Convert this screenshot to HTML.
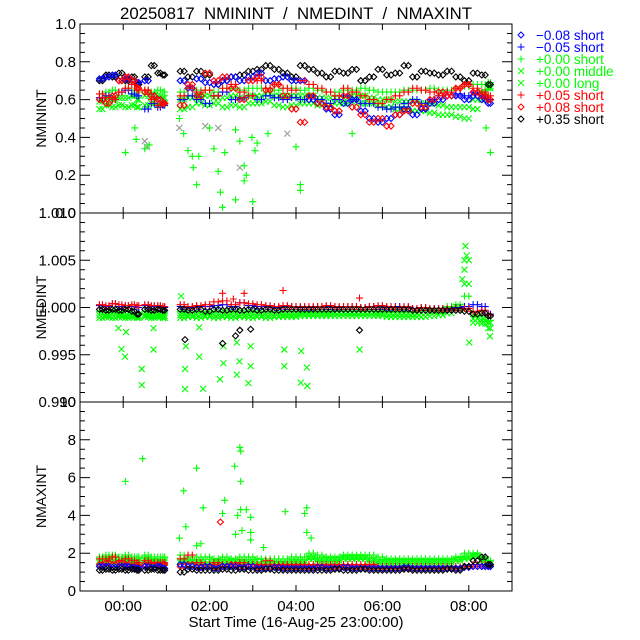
<!DOCTYPE html>
<html><head><meta charset="utf-8"><style>
html,body{margin:0;padding:0;background:#fff;}
svg{display:block;font-family:"Liberation Sans",sans-serif;}
</style></head><body>
<svg id="chart" width="640" height="640" viewBox="0 0 640 640" xmlns="http://www.w3.org/2000/svg">
<rect width="640" height="640" fill="#fff"/>
<text x="120" y="19" font-size="17" textLength="352" lengthAdjust="spacingAndGlyphs" xml:space="preserve">20250817  NMININT  /  NMEDINT  /  NMAXINT</text>
<g id="axes"></g>
<g id="marks"></g>
<g id="legend"></g>
</svg>
<script>
// ---- data ----
const times = [-0.55,-0.4,-0.25,-0.1,0.05,0.2,0.32, 0.5,0.65,0.8,0.92, 1.32,1.5,1.7,1.9,2.1,2.3,2.5,2.7,2.9,3.1,3.3,3.5,3.7,3.9,4.1, 4.3,4.5,4.7,4.9,5.1,5.3,5.5,5.7,5.9,6.1,6.3,6.5,6.7,6.9,7.1,7.3,7.5,7.7,7.9,8.1,8.3,8.45];
const timesB = [-0.48,-0.33,-0.18,-0.03,0.12,0.26,0.36, 0.58,0.72,0.86,0.96, 1.41,1.6,1.8,2.0,2.2,2.4,2.6,2.8,3.0,3.2,3.4,3.6,3.8,4.0,4.2, 4.4,4.6,4.8,5.0,5.2,5.4,5.6,5.8,6.0,6.2,6.4,6.6,6.8,7.0,7.2,7.4,7.6,7.8,8.0,8.2,8.38,8.5];

// NMININT
const minBlackDia = [0.70,0.73,0.72,0.74,0.70,0.72,0.68, 0.72,0.78,0.74,0.73, 0.75,0.72,0.75,0.73,0.68,0.70,0.72,0.73,0.75,0.76,0.78,0.76,0.74,0.72,0.78, 0.76,0.74,0.72,0.75,0.74,0.76,0.70,0.72,0.76,0.73,0.74,0.78,0.72,0.75,0.74,0.73,0.75,0.72,0.70,0.74,0.73,0.68];
const minBlueDia = [0.71,0.72,0.73,0.70,0.71,0.70,0.69, 0.70,0.62,0.60,0.58, 0.70,0.66,0.71,0.69,0.68,0.70,0.72,0.70,0.72,0.74,0.70,0.71,0.72,0.70,0.70, 0.60,0.58,0.55,0.52,0.58,0.60,0.54,0.50,0.48,0.50,0.52,0.55,0.52,0.55,0.58,0.60,0.62,0.62,0.60,0.62,0.60,0.58];
const minBluePlus = [0.61,0.62,0.60,0.64,0.65,0.63,0.62, 0.55,0.58,0.56,0.57, 0.60,0.62,0.60,0.58,0.62,0.64,0.60,0.61,0.62,0.60,0.62,0.61,0.60,0.61,0.60, 0.62,0.60,0.58,0.60,0.62,0.60,0.58,0.58,0.56,0.55,0.56,0.58,0.60,0.58,0.60,0.62,0.64,0.63,0.62,0.64,0.62,0.60];
const minRedPlus = [0.63,0.61,0.60,0.64,0.66,0.68,0.65, 0.65,0.60,0.57,0.58, 0.62,0.66,0.64,0.65,0.62,0.66,0.68,0.64,0.62,0.70,0.66,0.68,0.66,0.65,0.70, 0.68,0.66,0.64,0.62,0.66,0.64,0.62,0.60,0.58,0.60,0.62,0.64,0.66,0.65,0.64,0.62,0.64,0.66,0.68,0.66,0.64,0.62];
const minRedDia = [0.60,0.58,0.62,0.70,0.72,0.70,0.66, 0.64,0.62,0.60,0.58, 0.57,0.68,0.62,0.74,0.70,0.72,0.66,0.60,0.70,0.72,0.65,0.68,0.62,0.55,0.48, 0.62,0.58,0.56,0.54,0.62,0.56,0.52,0.48,0.50,0.46,0.52,0.54,0.58,0.56,0.60,0.64,0.62,0.66,0.68,0.64,0.62,0.60];
const minGreenShort = [0.63,0.64,0.65,0.64,0.66,0.65,0.64, 0.65,0.64,0.65,0.64, 0.64,0.66,0.65,0.65,0.64,0.66,0.66,0.65,0.66,0.66,0.66,0.65,0.66,0.66,0.65, 0.66,0.65,0.64,0.64,0.65,0.65,0.66,0.65,0.64,0.64,0.64,0.65,0.65,0.65,0.66,0.65,0.65,0.66,0.67,0.68,0.68,0.69];
const minGreenMiddle = [0.55,0.57,0.56,0.57,0.56,0.57,0.56, 0.57,0.58,0.57,0.58, 0.55,0.56,0.58,0.57,0.58,0.56,0.57,0.56,0.58,0.58,0.59,0.57,0.56,0.57,0.58, 0.58,0.57,0.57,0.58,0.58,0.59,0.58,0.58,0.57,0.56,0.55,0.55,0.54,0.54,0.53,0.52,0.52,0.51,0.50,0.55,0.60,0.66];
const minGreenLong = [0.59,0.61,0.60,0.61,0.61,0.62,0.60, 0.62,0.62,0.62,0.61, 0.60,0.61,0.62,0.62,0.61,0.61,0.62,0.61,0.62,0.62,0.63,0.62,0.62,0.62,0.62, 0.62,0.61,0.61,0.61,0.61,0.62,0.62,0.61,0.60,0.60,0.59,0.59,0.59,0.58,0.58,0.57,0.56,0.56,0.56,0.60,0.64,0.67];
const minOutT = [0.27,0.3,0.5,0.6,1.3,1.4,1.5,1.6,1.62,1.7,1.75,2.0,2.1,2.2,2.25,2.3,2.35,2.6,2.6,2.7,2.8,2.8,2.85,2.98,3.0,3.05,3.1,3.35,4.1,4.1,4.0,5.3,8.5,8.4,0.05];
const minOutV = [0.45,0.39,0.34,0.36,0.50,0.42,0.33,0.30,0.24,0.15,0.30,0.45,0.34,0.22,0.11,0.03,0.32,0.44,0.07,0.38,0.25,0.17,0.20,0.40,0.06,0.33,0.37,0.42,0.15,0.12,0.35,0.42,0.32,0.45,0.32];
const minGrayT = [1.3,1.9,2.2,2.7,3.8,0.5,0.55];
const minGrayV = [0.45,0.46,0.45,0.24,0.42,0.38,0.35];

// NMEDINT
const medBlackDia = [0.9998,0.9997,0.9998,0.9997,0.9998,0.9996,0.9993, 0.9998,0.9997,0.9998,0.9997, 0.9998,0.9997,0.9998,0.9996,0.9998,0.9997,0.9998,0.9997,0.9998,0.9997,0.9998,0.9997,0.9998,0.9998,0.9998, 0.9998,0.9998,0.9998,0.9998,0.9998,0.9998,0.9998,0.9998,0.9998,0.9998,0.9998,0.9998,0.9997,0.9997,0.9997,0.9997,0.9997,0.9997,0.9996,0.9993,0.9994,0.9991];
const medBluePlus = [1.0002,1.0001,1.0004,1.0001,1.0002,1.0001,1.0000, 1.0002,1.0001,1.0001,1.0000, 1.0001,1.0000,1.0001,1.0001,1.0002,1.0003,1.0001,1.0005,1.0002,1.0001,1.0001,1.0000,1.0001,1.0001,1.0000, 1.0000,1.0001,1.0001,1.0000,1.0001,1.0001,1.0000,1.0001,1.0001,1.0000,1.0001,1.0000,0.9999,1.0000,0.9999,0.9999,0.9998,1.0000,1.0001,1.0003,1.0001,0.9993];
const medRedPlus = [1.0003,1.0002,1.0004,1.0003,1.0002,1.0003,1.0002, 1.0003,1.0002,1.0002,1.0001, 1.0003,1.0001,1.0002,1.0003,1.0006,1.0007,1.0003,1.0005,1.0004,1.0003,1.0002,1.0001,1.0002,1.0001,1.0001, 1.0001,1.0001,1.0002,1.0001,1.0001,1.0001,1.0000,1.0001,1.0002,1.0001,1.0000,1.0001,0.9999,1.0000,0.9999,0.9999,0.9999,0.9999,0.9999,0.9996,0.9997,0.9992];
const medGreenShort = [0.9996,0.9995,0.9996,0.9995,0.9996,0.9995,0.9994, 0.9996,0.9995,0.9996,0.9995, 0.9996,0.9995,0.9996,0.9995,0.9996,0.9995,0.9996,0.9995,0.9996,0.9995,0.9996,0.9995,0.9996,0.9996,0.9995, 0.9996,0.9996,0.9996,0.9996,0.9996,0.9996,0.9996,0.9996,0.9996,0.9996,0.9996,0.9996,0.9996,0.9997,0.9998,0.9999,1.0001,1.0003,1.0012,0.9992,0.9990,0.9986];
const medGreenMiddle = [0.9992,0.9991,0.9993,0.9992,0.9991,0.9992,0.9991, 0.9992,0.9991,0.9992,0.9991, 0.9992,0.9991,0.9992,0.9991,0.9992,0.9991,0.9992,0.9991,0.9992,0.9991,0.9992,0.9991,0.9992,0.9992,0.9993, 0.9993,0.9993,0.9993,0.9994,0.9994,0.9994,0.9994,0.9994,0.9993,0.9993,0.9993,0.9993,0.9993,0.9994,0.9995,0.9996,0.9998,1.0001,1.0025,0.9988,0.9986,0.9984];
const medGreenLong = [0.9989,0.9990,0.9989,0.9990,0.9989,0.9990,0.9989, 0.9990,0.9989,0.9990,0.9989, 0.9989,0.9990,0.9989,0.9990,0.9989,0.9990,0.9989,0.9990,0.9989,0.9990,0.9989,0.9990,0.9990,0.9990,0.9991, 0.9991,0.9991,0.9991,0.9991,0.9991,0.9991,0.9991,0.9991,0.9991,0.9990,0.9990,0.9990,0.9990,0.9990,0.9991,0.9992,0.9994,0.9998,1.0050,0.9984,0.9983,0.9978];
const medOutT = [-0.11,0.04,0.43,0.43,-0.04,0.065,0.70,0.70,1.43,1.43,1.45,1.76,1.85,2.24,2.32,2.32,2.63,2.63,2.69,2.90,2.95,2.95,3.73,3.73,4.12,4.25,4.26,4.11,5.47,8.01,8.49,1.34,1.76,7.92,7.95,7.9,7.85];
const medOutV = [0.9978,0.9948,0.9935,0.9918,0.9956,0.9974,0.9978,0.99555,0.99137,0.9935,0.9959,0.9948,0.9914,0.9924,0.9941,0.9959,0.9929,0.9963,0.9943,0.9920,0.9938,0.9959,0.99555,0.9938,0.9954,0.99365,0.9917,0.99205,0.99555,0.9963,0.99695,1.0012,0.9979,1.0065,1.0055,1.0040,1.0030];
const medDiaOutT = [2.95,2.7,2.3,5.47,2.6,1.43];
const medDiaOutV = [0.9977,0.9976,0.9962,0.9976,0.9970,0.9966];
const medRedOutT = [2.3,2.8,3.7,5.47,2.55];
const medRedOutV = [1.0015,1.0015,1.0018,1.0010,1.0009];

// NMAXINT
const maxBlackDia = [1.1,1.15,1.1,1.15,1.1,1.15,1.1, 1.1,1.15,1.1,1.1, 1.0,1.15,1.1,1.1,1.1,1.15,1.1,1.15,1.1,1.1,1.15,1.1,1.1,1.1,1.1, 1.1,1.1,1.1,1.15,1.1,1.1,1.15,1.1,1.1,1.1,1.1,1.15,1.1,1.1,1.1,1.1,1.15,1.1,1.3,1.6,1.8,1.4];
const maxBlueDia = [1.3,1.3,1.25,1.3,1.3,1.25,1.2, 1.3,1.25,1.3,1.2, 1.4,1.3,1.25,1.3,1.2,1.3,1.3,1.25,1.3,1.2,1.2,1.25,1.2,1.2,1.2, 1.2,1.25,1.2,1.2,1.25,1.2,1.2,1.2,1.2,1.2,1.2,1.25,1.2,1.2,1.2,1.2,1.2,1.2,1.25,1.3,1.3,1.3];
const maxRedPlus = [1.7,1.7,1.8,1.6,1.7,1.6,1.5, 1.6,1.5,1.5,1.5, 1.7,1.9,1.5,1.4,1.5,1.4,1.4,1.5,1.4,1.4,1.6,1.4,1.4,1.4,1.4, 1.4,1.4,1.4,1.4,1.4,1.4,1.4,1.4,1.3,1.3,1.3,1.3,1.3,1.3,1.3,1.3,1.3,1.3,1.3,1.4,1.4,1.4];
const maxRedDia = [1.4,1.5,1.4,1.5,1.4,1.3,1.3, 1.4,1.4,1.4,1.4, 1.3,1.4,1.3,1.3,1.3,1.3,1.4,1.3,1.3,1.3,1.3,1.3,1.3,1.3,1.3, 1.3,1.3,1.3,1.3,1.3,1.3,1.3,1.3,1.2,1.2,1.2,1.2,1.2,1.2,1.2,1.2,1.2,1.2,1.3,1.3,1.3,1.3];
const maxGreenShort = [1.8,1.9,1.9,1.8,1.9,1.8,1.8, 1.9,1.8,1.8,1.8, 1.9,1.8,1.8,1.8,1.7,1.8,1.7,1.8,1.8,1.7,1.7,1.7,1.7,1.8,1.8, 2.0,1.9,1.8,1.8,1.9,1.9,1.9,1.9,1.8,1.7,1.7,1.7,1.7,1.7,1.7,1.7,1.7,1.8,2.0,2.0,1.8,1.6];
const maxGreenMiddle = [1.6,1.7,1.7,1.6,1.7,1.6,1.6, 1.7,1.6,1.6,1.6, 1.6,1.6,1.6,1.6,1.6,1.6,1.6,1.6,1.6,1.6,1.5,1.5,1.5,1.6,1.6, 1.8,1.7,1.7,1.7,1.8,1.8,1.8,1.7,1.6,1.6,1.6,1.6,1.6,1.6,1.6,1.6,1.6,1.7,1.8,1.9,1.7,1.5];
const maxGreenLong = [1.5,1.6,1.5,1.5,1.6,1.5,1.5, 1.6,1.5,1.5,1.5, 1.5,1.5,1.5,1.4,1.5,1.5,1.5,1.5,1.5,1.4,1.4,1.4,1.4,1.5,1.5, 1.7,1.6,1.6,1.6,1.7,1.7,1.7,1.6,1.5,1.5,1.5,1.5,1.5,1.5,1.5,1.5,1.5,1.6,1.7,1.8,1.6,1.4];
const maxOutT = [0.05,0.45,1.3,1.4,1.45,1.7,1.85,2.3,2.35,2.58,2.65,2.7,2.72,2.72,2.72,2.75,2.85,2.95,2.95,2.95,3.25,3.75,4.2,4.25,4.25,4.35,2.6,1.7,1.8];
const maxOutV = [5.8,7.0,2.8,5.3,3.4,6.5,4.4,4.1,4.8,6.6,4.0,7.6,7.4,5.8,4.3,3.2,4.3,3.9,3.1,2.7,2.3,4.2,4.1,4.4,3.1,2.8,3.0,2.4,2.5];
const maxDiaOutT = [2.25];
const maxDiaOutV = [3.65];

const yTicks1 = ['0.0','0.2','0.4','0.6','0.8','1.0'];
const yTicks2 = ['0.990','0.995','1.000','1.005','1.010'];
const yTicks3 = ['0','2','4','6','8','10'];
const xTickLabels = ['00:00','02:00','04:00','06:00','08:00'];

// ---- geometry ----
const NS = 'http://www.w3.org/2000/svg';
const L = 80, R = 512;
const xMin = -1, xMax = 9;
const panels = [
  {name:'nminint', top:24, bot:213, min:0, max:1, ticks:yTicks1, minor:0.05, title:'NMININT'},
  {name:'nmedint', top:213, bot:402, min:0.990, max:1.010, ticks:yTicks2, minor:0.001, title:'NMEDINT'},
  {name:'nmaxint', top:402, bot:591, min:0, max:10, ticks:yTicks3, minor:0.5, title:'NMAXINT'}
];
function xs(t){ return L + (t - xMin) / (xMax - xMin) * (R - L); }
function ysFor(p){ return v => p.bot - (v - p.min) / (p.max - p.min) * (p.bot - p.top); }

const axes = document.getElementById('axes');
const marks = document.getElementById('marks');
function mk(tag, attrs, parent){
  const e = document.createElementNS(NS, tag);
  for (const k in attrs) e.setAttribute(k, attrs[k]);
  parent.appendChild(e);
  return e;
}
function markerPath(type, x, y){
  if (type === 'dia') return `M${x-3},${y}L${x},${y-3}L${x+3},${y}L${x},${y+3}Z`;
  if (type === 'plus') return `M${x-3.5},${y}H${x+3.5}M${x},${y-3.5}V${y+3.5}`;
  return `M${x-3},${y-3}L${x+3},${y+3}M${x-3},${y+3}L${x+3},${y-3}`;
}
function drawSeries(p, ts, vs, type, color, label){
  const ys = ysFor(p);
  const tsets = (ts === times) ? [times, timesB] : [ts];
  let d = '';
  tsets.forEach(tt => {
    for (let i = 0; i < tt.length && i < vs.length; i++){
      if (vs[i] < p.min || vs[i] > p.max) continue;
      d += markerPath(type, xs(tt[i]), ys(vs[i]));
    }
  });
  const g = mk('path', {d:d, fill:'none', stroke:color, 'stroke-width':1.1}, marks);
  
  
}

panels.forEach(p => {
  const ys = ysFor(p);
  const fr = mk('rect', {x:L, y:p.top, width:R-L, height:p.bot-p.top, fill:'none', stroke:'#000', 'stroke-width':1}, axes);
  
  
  let d = '';
  const nMinor = Math.round((p.max - p.min) / p.minor);
  for (let i = 0; i <= nMinor; i++){
    const y = p.bot - i / nMinor * (p.bot - p.top);
    d += `M${L},${y}h5M${R},${y}h-5`;
  }
  p.ticks.forEach((lab) => {
    const v = parseFloat(lab);
    const y = ys(v);
    d += `M${L},${y}h10M${R},${y}h-10`;
    const t = mk('text', {x:L-4, y:y+5, 'font-size':15, 'text-anchor':'end'}, axes);
    t.textContent = lab;
    
    
  });
  for (let h = 0; h <= 8; h++){
    const x = xs(h);
    d += `M${x},${p.bot}v-6M${x},${p.top}v6`;
  }
  const tk = mk('path', {d:d, stroke:'#000', 'stroke-width':1, fill:'none'}, axes);
  
  
  const cy = (p.top + p.bot) / 2;
  const yt = mk('text', {x:0, y:0, 'font-size':14, 'text-anchor':'middle', transform:`translate(46,${cy}) rotate(-90)`}, axes);
  yt.textContent = p.title;
  
  
});

xTickLabels.forEach((lab, i) => {
  const t = mk('text', {x:xs(i*2), y:611, 'font-size':15, 'text-anchor':'middle'}, axes);
  t.textContent = lab;
  
  
});
const xt = mk('text', {x:296, y:627, 'font-size':15, 'text-anchor':'middle'}, axes);
xt.textContent = 'Start Time (16-Aug-25 23:00:00)';



const BLK='#000', BLU='#0000ff', GRN='#00ff00', GRY='#999', RED='#ff0000';
const [P1,P2,P3] = panels;
// panel 1
drawSeries(P1, minGrayT, minGrayV, 'x', GRY, 'gray-outliers');
drawSeries(P1, times, minGreenLong, 'x', GRN, 'green-long');
drawSeries(P1, times, minGreenMiddle, 'x', GRN, 'green-middle');
drawSeries(P1, times, minGreenShort, 'plus', GRN, 'green-short');
drawSeries(P1, minOutT, minOutV, 'plus', GRN, 'green-outliers');
drawSeries(P1, times, minBlackDia, 'dia', BLK, 'black-short');
drawSeries(P1, times, minBlueDia, 'dia', BLU, 'blue-diamond');
drawSeries(P1, times, minBluePlus, 'plus', BLU, 'blue-plus');
drawSeries(P1, times, minRedDia, 'dia', RED, 'red-diamond');
drawSeries(P1, times, minRedPlus, 'plus', RED, 'red-plus');
// panel 2
drawSeries(P2, times, medGreenLong, 'x', GRN, 'green-long');
drawSeries(P2, times, medGreenMiddle, 'x', GRN, 'green-middle');
drawSeries(P2, times, medGreenShort, 'plus', GRN, 'green-short');
drawSeries(P2, medOutT, medOutV, 'x', GRN, 'green-outliers');
drawSeries(P2, times, medBluePlus, 'plus', BLU, 'blue-plus');
drawSeries(P2, times, medRedPlus, 'plus', RED, 'red-plus');
drawSeries(P2, medRedOutT, medRedOutV, 'plus', RED, 'red-outliers');
drawSeries(P2, times, medBlackDia, 'dia', BLK, 'black-short');
drawSeries(P2, medDiaOutT, medDiaOutV, 'dia', BLK, 'black-outliers');
// panel 3
drawSeries(P3, times, maxGreenShort, 'plus', GRN, 'green-short');
drawSeries(P3, times, maxGreenMiddle, 'x', GRN, 'green-middle');
drawSeries(P3, times, maxGreenLong, 'x', GRN, 'green-long');
drawSeries(P3, maxOutT, maxOutV, 'plus', GRN, 'green-outliers');
drawSeries(P3, times, maxRedPlus, 'plus', RED, 'red-plus');
drawSeries(P3, times, maxRedDia, 'dia', RED, 'red-diamond');
drawSeries(P3, maxDiaOutT, maxDiaOutV, 'dia', RED, 'red-outliers');
drawSeries(P3, times, maxBlueDia, 'dia', BLU, 'blue-diamond');
drawSeries(P3, times, maxBlackDia, 'dia', BLK, 'black-short');

// legend
const legTypes = ['dia','plus','plus','x','x','plus','dia','dia'];
const legColors = [BLU,BLU,GRN,GRN,GRN,RED,RED,BLK];
const legLabels = ['\u22120.08 short','\u22120.05 short','+0.00 short','+0.00 middle','+0.00 long','+0.05 short','+0.08 short','+0.35 short'];
const leg = document.getElementById('legend');
legLabels.forEach((lab, i) => {
  const y = 35 + i * 12;
  const m = mk('path', {d:markerPath(legTypes[i], 521, y), stroke:legColors[i], fill:'none', 'stroke-width':1}, leg);
  
  
  const t = mk('text', {x:536, y:y+5, 'font-size':13.5, fill:legColors[i]}, leg);
  t.textContent = lab;
  
  
});
</script>
</body></html>
